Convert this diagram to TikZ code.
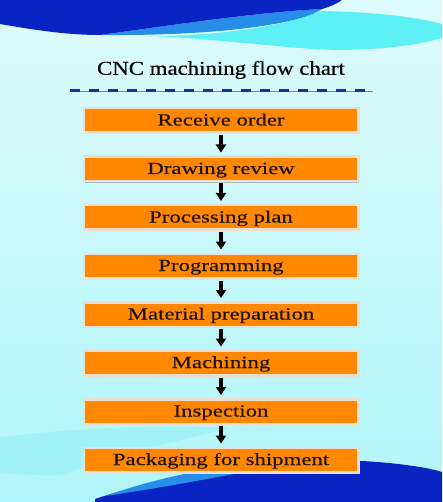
\documentclass[tikz,border=0pt]{standalone}
\usepackage{fontspec}
\setmainfont{Liberation Serif}
\newfontfamily\titlefont[FakeStretch=1.17,FakeBold=0.4]{Liberation Serif}
\newfontfamily\stepfont[FakeStretch=1.34,FakeBold=0.4]{Liberation Serif}
\usetikzlibrary{positioning,arrows.meta,shadows}

\definecolor{bgtop}{RGB}{222,250,252}
\definecolor{bgmid}{RGB}{244,255,255}
\definecolor{bgcyan}{RGB}{176,246,250}
\definecolor{wavedark}{RGB}{10,36,196}
\definecolor{wavelight}{RGB}{38,142,232}
\definecolor{wavecyan}{RGB}{80,240,244}
\definecolor{bandcyan}{RGB}{150,238,244}
\definecolor{boxorange}{RGB}{255,136,0}
\definecolor{boxedge}{RGB}{236,222,208}
\definecolor{rulenavy}{RGB}{28,48,150}

\begin{document}
\begin{tikzpicture}[x=1pt, y=-1pt,
	stepbox/.style={draw=boxedge, line width=2.5pt, fill=boxorange, minimum width=274.5pt, minimum height=24.5pt, inner sep=0pt, text height=12.5pt, text depth=2.5pt, font=\stepfont\fontsize{17}{20}\selectfont, text=black!85!brown, drop shadow={shadow xshift=1pt, shadow yshift=-1.5pt, fill=gray!70, opacity=0.7}},
	flowarrow/.style={-{Triangle[width=10pt,length=8pt]}, line width=4pt, shorten <=1pt, shorten >=3pt}]
		\useasboundingbox (0,0) rectangle (442,502);
		
		% Background
		\shade[top color=bgtop, middle color=bgmid, bottom color=bgcyan] (0,0) rectangle (442,502);
		\fill[bandcyan, opacity=0.6] (0,437) .. controls (80,428) and (160,424) .. (230,428) .. controls (180,440) and (110,458) .. (60,475) .. controls (40,476) and (20,474) .. (0,473) -- cycle;
		
		% Top waves
		\fill[wavecyan, opacity=0.9] (150,36) .. controls (230,36) and (290,24) .. (320,11) .. controls (380,12) and (420,18) .. (442,24) -- (442,38) .. controls (400,50) and (340,52) .. (300,48) .. controls (250,44) and (200,38) .. (150,36);
		\fill[wavelight] (100,35) .. controls (180,24) and (260,12) .. (322,9) .. controls (300,24) and (220,36) .. (100,35);
		\fill[wavedark] (0,0) -- (0,24) .. controls (40,31) and (70,35) .. (100,35) .. controls (180,24) and (260,12) .. (322,9) .. controls (332,6) and (338,3) .. (342,0) -- cycle;
		
		% Bottom waves
		\fill[wavedark] (95,502) -- (95,499) .. controls (150,480) and (250,466) .. (362,461) .. controls (400,463) and (430,468) .. (442,472) -- (442,502) -- cycle;
		\fill[wavelight] (105,496) .. controls (180,470) and (250,461) .. (305,460) .. controls (250,471) and (180,485) .. (105,496);
		
		% Title
		\node[font=\titlefont\fontsize{19.5}{22}\selectfont] (title) at (221,70) {CNC machining flow chart};
		\coordinate (ruleL) at (70,91);
		\coordinate (ruleR) at (373,91);
		\draw[rulenavy!60, line width=0.6pt] (ruleL) -- (ruleR);
		\draw[rulenavy, line width=3pt, dash pattern=on 10pt off 9pt] (ruleL) -- (ruleR);
		
		% Steps
		\foreach \i/\name in {0/Receive order, 1/Drawing review, 2/Processing plan, 3/Programming, 4/Material preparation, 5/Machining, 6/Inspection, 7/Packaging for shipment} {
			\node[stepbox] (step\i) at (221, 120.5+48.5*\i) {\name};
		}
		
		% Arrows
		\foreach \i [count=\j from 1] in {0,...,6} {
			\draw[flowarrow] (step\i) -- (step\j);
		}
	\end{tikzpicture}
\end{document}
